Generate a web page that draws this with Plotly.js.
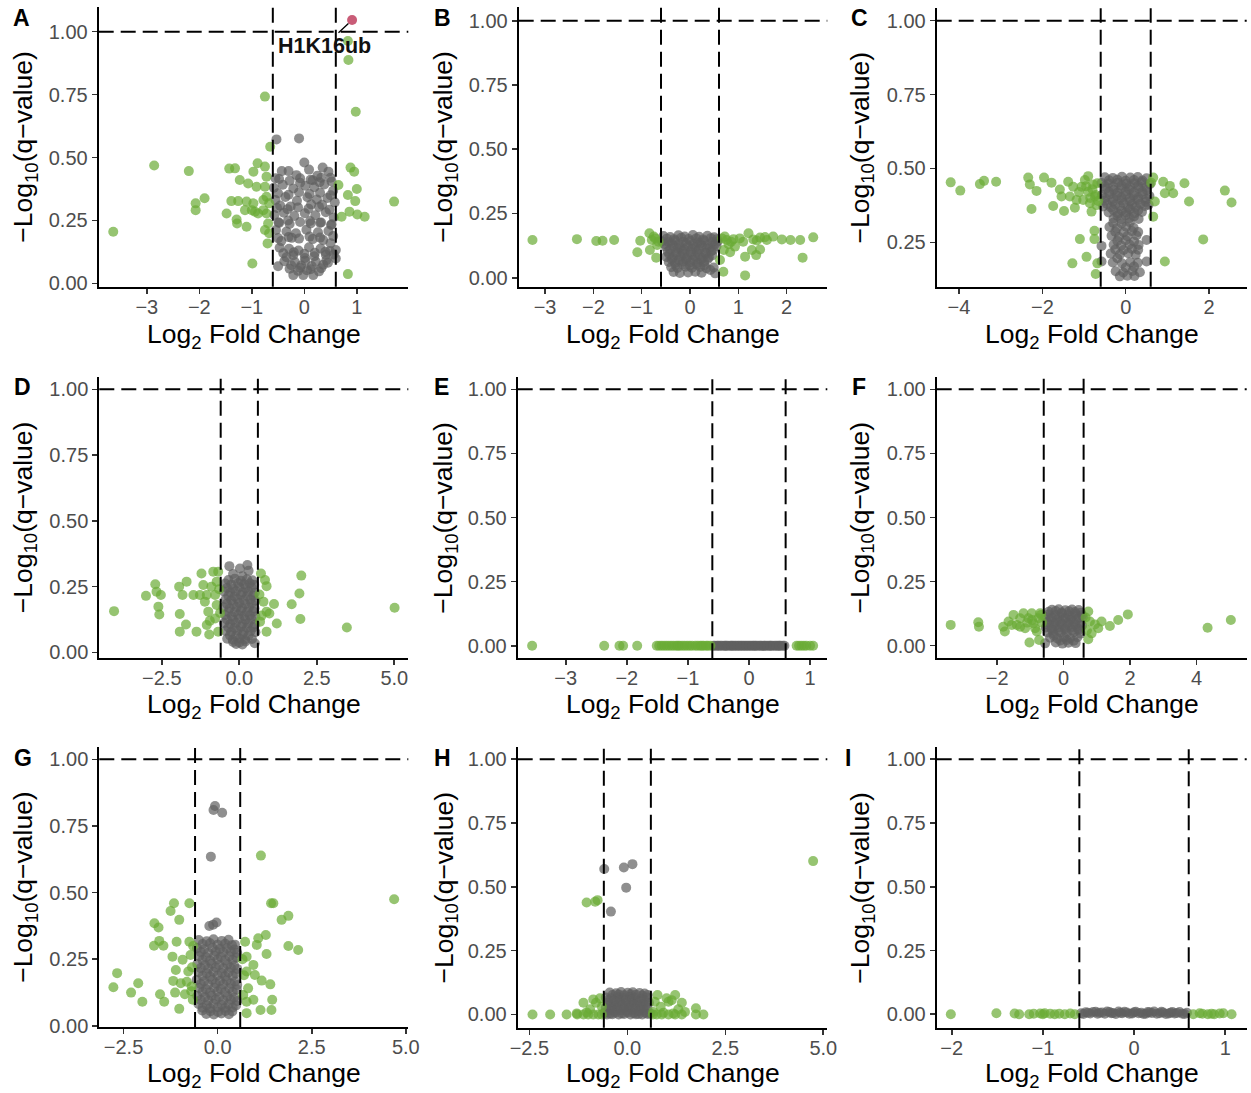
<!DOCTYPE html>
<html>
<head>
<meta charset="utf-8">
<script src="https://cdn.plot.ly/plotly-3.0.1.min.js"></script>
<style>html,body{margin:0;padding:0;background:#fff;}#chart{width:1251px;height:1093px;}</style>
</head>
<body>
<div id="chart"></div>
<script>
// ---------------- DATA ----------------
const panelLabels = ['A','B','C','D','E','F','G','H','I'];
const fcCut = [-0.6, 0.6];
const qCut = 1.0;

// Panel A
const aGrayX = [-0.53,-0.10,0.00,-0.30,-0.43,0.35,0.46,0.50,0.16,-0.15,0.09,-0.55,0.25,
 -0.58,-0.41,-0.21,0.02,0.19,0.38,0.55,-0.08,0.29,
 -0.55,-0.36,-0.14,0.06,0.24,0.44,0.58,-0.46,0.34,-0.26,0.13,
 -0.57,-0.39,-0.19,0.01,0.21,0.41,0.56,-0.31,0.11,0.30,-0.49,0.51,
 -0.54,-0.34,-0.16,0.04,0.26,0.46,-0.24,0.16,0.36,-0.44,0.55,
 -0.47,-0.29,-0.11,0.09,0.31,0.49,0.60,-0.21,0.01,0.19,0.41,
 -0.50,-0.34,-0.25,-0.06,0.14,0.36,0.60,0.45,
 -0.21,-0.02,0.17,0.05,-0.12,0.28,
 -0.48,-0.28,-0.08,0.12,0.32,0.52,
 -0.50,-0.30,-0.10,0.10,0.30,0.50,
 -0.52,-0.32,-0.12,0.08,0.28,0.48,
 -0.48,-0.28,-0.08,0.12,0.32,0.52,
 -0.50,-0.30,-0.10,0.10,0.30,0.50,
 -0.40,-0.20,0.00,0.20,0.40,0.56,
 -0.38,-0.18,0.02,0.22,0.42,
 -0.28,-0.08,0.12,0.32];
const aGrayY = [0.572,0.576,0.480,0.446,0.446,0.460,0.444,0.420,0.410,0.430,0.452,0.418,0.428,
 0.380,0.392,0.377,0.388,0.382,0.393,0.368,0.400,0.402,
 0.331,0.343,0.328,0.342,0.333,0.339,0.322,0.309,0.312,0.306,0.314,
 0.272,0.281,0.268,0.279,0.271,0.283,0.262,0.250,0.248,0.241,0.243,0.232,
 0.212,0.206,0.199,0.213,0.203,0.208,0.181,0.176,0.172,0.168,0.188,
 0.142,0.138,0.131,0.144,0.139,0.129,0.133,0.112,0.101,0.108,0.114,
 0.068,0.104,0.072,0.071,0.069,0.074,0.099,0.082,
 0.033,0.033,0.033,0.052,0.050,0.048,
 0.415,0.408,0.418,0.412,0.420,0.405,
 0.358,0.352,0.362,0.355,0.360,0.350,
 0.300,0.295,0.302,0.297,0.304,0.293,
 0.240,0.236,0.244,0.238,0.242,0.235,
 0.180,0.184,0.178,0.186,0.182,0.160,
 0.120,0.124,0.118,0.122,0.126,0.115,
 0.088,0.085,0.090,0.086,0.092,
 0.058,0.062,0.056,0.060];
const aGreenX = [-3.64,-2.86,-2.20,-2.07,-2.07,-1.90,-1.48,-1.43,-1.32,-1.39,
 -1.26,-1.23,-1.29,-1.28,-1.10,-1.07,-1.10,-0.97,-0.89,-0.99,
 -0.94,-0.91,-0.75,-0.75,-0.72,-0.75,-0.78,-0.72,-0.69,-0.75,
 -0.70,-0.65,-0.72,-0.78,-1.00,-1.13,-0.88,-0.67,-0.67,-0.97,
 0.83,0.84,0.98,0.88,0.95,0.65,1.00,0.83,0.97,1.71,0.71,0.86,1.01,1.15,0.83];
const aGreenY = [0.205,0.468,0.446,0.318,0.291,0.338,0.278,0.456,0.457,0.327,
 0.327,0.411,0.254,0.238,0.225,0.397,0.325,0.444,0.477,0.079,
 0.285,0.384,0.742,0.464,0.424,0.384,0.331,0.278,0.238,0.212,
 0.159,0.543,0.344,0.291,0.291,0.291,0.278,0.199,0.318,0.318,
 0.963,0.887,0.682,0.460,0.444,0.391,0.375,0.351,0.327,0.325,0.265,0.285,0.274,0.265,0.037];
const aHitX = [0.91];
const aHitY = [1.046];
const aHitLabel = ['H1K16ub'];

// Panel B
const bGrayX = [-0.55,-0.41,-0.24,-0.11,0.06,0.19,0.36,0.50,
 -0.58,-0.44,-0.31,-0.14,0.01,0.16,0.29,0.46,0.57,
 -0.50,-0.34,-0.21,-0.04,0.11,0.24,0.41,0.55,
 -0.46,-0.29,-0.16,0.01,0.14,0.31,0.44,
 -0.49,-0.36,-0.19,-0.06,0.11,0.26,0.39,
 -0.44,-0.31,-0.14,0.01,0.16,0.29,
 -0.39,-0.26,-0.09,0.04,0.21,0.34,0.49,
 -0.34,-0.21,-0.04,0.11,0.24,0.52,
 -0.48,-0.33,-0.18,-0.03,0.13,0.27,0.43,0.56,
 -0.53,-0.38,-0.23,-0.08,0.07,0.22,0.37,0.52,
 -0.41,-0.26,-0.11,0.04,0.19,0.34,0.48,
 -0.43,-0.28,-0.13,0.03,0.18,0.33,0.46,
 -0.38,-0.23,-0.08,0.07,0.22,0.37,
 -0.30,-0.15,0.00,0.15,0.30,0.42];
const bGrayY = [0.162,0.158,0.165,0.160,0.166,0.159,0.163,0.157,
 0.142,0.138,0.145,0.140,0.143,0.137,0.144,0.139,0.141,
 0.121,0.124,0.118,0.122,0.119,0.125,0.117,0.123,
 0.101,0.098,0.104,0.099,0.102,0.097,0.103,
 0.081,0.078,0.083,0.079,0.082,0.077,0.080,
 0.061,0.058,0.063,0.060,0.057,0.062,
 0.041,0.038,0.043,0.039,0.042,0.037,0.040,
 0.022,0.018,0.020,0.023,0.019,0.017,
 0.152,0.150,0.155,0.151,0.153,0.149,0.154,0.150,
 0.131,0.133,0.129,0.132,0.130,0.134,0.128,0.131,
 0.111,0.113,0.109,0.112,0.110,0.114,0.108,
 0.091,0.089,0.092,0.088,0.090,0.093,0.087,
 0.071,0.068,0.072,0.069,0.070,0.073,
 0.050,0.052,0.048,0.051,0.049,0.030];
const bGreenX = [-3.26,-2.34,-1.94,-1.81,-1.57,-1.03,-1.09,-0.84,-0.79,-0.83,-0.70,-0.72,-0.68,-0.75,-0.65,
 0.66,0.76,0.90,1.03,1.21,1.31,1.45,1.59,1.72,1.90,
 2.08,2.28,2.55,2.33,1.14,1.37,1.28,1.45,0.83,0.70,
 0.69,1.14,0.93,0.62,0.72,0.85,1.10,1.38,1.55,0.80];
const bGreenY = [0.147,0.150,0.143,0.144,0.147,0.144,0.099,0.173,0.147,0.108,0.078,0.153,0.127,0.160,0.140,
 0.153,0.147,0.150,0.153,0.173,0.149,0.156,0.147,0.160,0.149,
 0.147,0.147,0.157,0.078,0.082,0.088,0.108,0.110,0.099,0.108,
 0.023,0.009,0.121,0.069,0.160,0.140,0.140,0.145,0.158,0.130];

// Panel C
const cGrayX = [-0.50,-0.31,-0.09,0.11,0.29,0.50,
 -0.58,-0.41,-0.19,0.01,0.21,0.39,0.58,
 -0.49,-0.29,-0.11,0.09,0.31,0.51,
 -0.57,-0.39,-0.21,0.01,0.19,0.41,0.57,
 -0.51,-0.31,-0.09,0.11,0.29,0.49,
 -0.54,-0.36,-0.14,0.06,0.24,0.46,
 -0.41,-0.19,0.01,0.21,0.39,
 -0.29,-0.11,0.09,0.31,
 -0.39,-0.21,0.01,0.19,
 -0.34,-0.16,0.04,0.26,
 -0.58,-0.29,-0.11,0.09,0.31,0.50,
 -0.36,-0.14,0.06,0.24,
 -0.58,-0.31,-0.09,0.11,0.29,0.50,
 -0.24,-0.06,0.16,0.34,
 -0.14,0.04,0.21,
 -0.40,-0.20,0.00,0.20,0.40,
 -0.50,-0.30,-0.10,0.10,0.30,0.50,
 -0.40,-0.20,0.00,0.20,0.40,
 -0.50,-0.30,-0.10,0.10,0.30,0.50,
 -0.45,-0.25,-0.05,0.15,0.35,0.55,
 -0.30,-0.10,0.10,0.30,
 -0.20,0.00,0.20,
 -0.30,-0.10,0.10,
 -0.25,-0.05,0.15,0.30,
 -0.20,0.00,0.20,
 -0.25,-0.05,0.15,0.30,
 -0.20,0.00,0.20];
const cGrayY = [0.470,0.468,0.472,0.469,0.471,0.467,
 0.451,0.449,0.452,0.448,0.450,0.453,0.447,
 0.431,0.428,0.432,0.429,0.433,0.427,
 0.410,0.412,0.408,0.411,0.409,0.413,0.407,
 0.391,0.388,0.392,0.389,0.393,0.387,
 0.371,0.369,0.372,0.368,0.370,0.373,
 0.351,0.348,0.352,0.349,0.353,
 0.331,0.328,0.332,0.329,
 0.302,0.298,0.303,0.299,
 0.272,0.268,0.271,0.273,
 0.238,0.242,0.239,0.243,0.241,0.258,
 0.212,0.209,0.213,0.208,
 0.185,0.182,0.179,0.183,0.181,0.185,
 0.152,0.148,0.153,0.149,
 0.135,0.137,0.136,
 0.460,0.462,0.458,0.461,0.459,
 0.440,0.438,0.442,0.439,0.441,0.437,
 0.420,0.418,0.422,0.419,0.421,
 0.400,0.398,0.402,0.399,0.401,0.397,
 0.380,0.378,0.382,0.379,0.381,0.377,
 0.360,0.358,0.362,0.359,
 0.340,0.342,0.338,
 0.316,0.314,0.318,
 0.286,0.284,0.288,0.285,
 0.255,0.257,0.253,
 0.226,0.224,0.228,0.225,
 0.196,0.165,0.168];
const cGreenX = [-4.20,-3.97,-3.50,-3.40,-3.11,-2.34,-2.30,-2.26,-2.14,-1.96,
 -1.78,-1.74,-1.58,-1.54,-1.48,-1.38,-1.34,-1.26,-1.18,-1.22,
 -1.06,-1.02,-0.98,-0.90,-0.86,-0.82,-0.78,-0.74,-0.70,-0.90,
 -1.10,-0.75,-0.75,-0.94,-1.28,-0.68,-0.72,-0.80,-0.68,-0.72,-0.85,-0.66,-1.12,-0.95,
 0.66,0.61,0.90,1.06,0.94,1.14,0.70,1.41,1.52,2.38,2.54,1.86,0.66,0.94];
const cGreenY = [0.453,0.425,0.447,0.458,0.455,0.469,0.446,0.363,0.424,0.469,
 0.452,0.373,0.429,0.405,0.356,0.455,0.405,0.438,0.393,0.367,
 0.438,0.393,0.461,0.421,0.382,0.354,0.446,0.405,0.376,0.474,
 0.261,0.289,0.261,0.201,0.179,0.179,0.143,0.430,0.450,0.410,0.400,0.390,0.420,0.440,
 0.469,0.452,0.455,0.441,0.416,0.416,0.388,0.450,0.388,0.425,0.385,0.260,0.337,0.185];

// Panel D
const dGrayX = [-0.32,0.26,0.02,0.30,-0.20,0.10,
 -0.45,-0.26,-0.04,0.16,0.34,0.48,
 -0.50,-0.29,-0.11,0.11,0.29,0.50,
 -0.44,-0.26,-0.06,0.14,0.36,0.52,
 -0.51,-0.31,-0.09,0.09,0.31,0.49,
 -0.46,-0.24,-0.04,0.16,0.34,0.52,
 -0.49,-0.29,-0.11,0.11,0.29,0.51,
 -0.44,-0.26,-0.06,0.14,0.36,0.52,
 -0.39,-0.21,0.01,0.19,0.41,
 -0.10,0.10,0.50,
 -0.35,-0.15,0.05,0.25,0.42,
 -0.40,-0.20,0.00,0.20,0.40,
 -0.35,-0.15,0.05,0.25,0.45,
 -0.40,-0.20,0.00,0.20,0.40,
 -0.35,-0.15,0.05,0.25,0.45,
 -0.40,-0.20,0.00,0.20,0.40,
 -0.35,-0.15,0.05,0.25,0.45,
 -0.30,-0.10,0.10,0.30,
 -0.20,0.00,0.20];
const dGrayY = [0.328,0.332,0.319,0.310,0.298,0.290,
 0.262,0.258,0.264,0.259,0.263,0.257,
 0.232,0.228,0.233,0.229,0.231,0.227,
 0.202,0.198,0.203,0.199,0.201,0.197,
 0.172,0.168,0.173,0.169,0.171,0.167,
 0.142,0.138,0.143,0.139,0.141,0.137,
 0.112,0.108,0.113,0.109,0.111,0.107,
 0.082,0.078,0.083,0.079,0.081,0.077,
 0.052,0.048,0.053,0.049,0.051,
 0.032,0.030,0.035,
 0.275,0.280,0.272,0.278,0.274,
 0.245,0.243,0.248,0.244,0.246,
 0.215,0.213,0.218,0.214,0.216,
 0.185,0.183,0.188,0.184,0.186,
 0.155,0.153,0.158,0.154,0.156,
 0.125,0.123,0.128,0.124,0.126,
 0.095,0.093,0.098,0.094,0.096,
 0.065,0.063,0.068,0.064,
 0.040,0.038,0.042];
const dGreenX = [-4.04,-3.01,-2.71,-2.67,-2.53,-2.61,-2.58,-1.94,-1.92,-1.92,
 -1.70,-1.72,-1.83,-1.38,-1.22,-1.16,-1.05,-1.11,-1.00,-1.05,
 -0.97,-0.84,-0.73,-0.78,-0.73,-0.78,-0.68,-0.68,-1.48,-1.27,
 -0.65,-0.90,-0.62,-0.95,
 0.70,0.83,0.88,0.78,1.12,0.97,0.88,1.21,0.88,0.67,1.69,1.94,2.00,1.97,3.47,5.01,0.65,0.72];
const dGreenY = [0.157,0.215,0.259,0.231,0.218,0.174,0.144,0.250,0.146,0.079,
 0.269,0.106,0.218,0.079,0.300,0.256,0.218,0.193,0.155,0.104,
 0.068,0.307,0.269,0.218,0.180,0.129,0.079,0.307,0.218,0.218,
 0.240,0.250,0.150,0.120,
 0.300,0.275,0.252,0.193,0.184,0.148,0.155,0.110,0.079,0.117,0.183,0.224,0.292,0.127,0.095,0.170,0.220,0.140];

// Panel E
const eGrayX = [-0.58,-0.52,-0.47,-0.41,-0.37,-0.31,-0.27,-0.22,-0.17,-0.12,-0.07,-0.02,
 0.03,0.08,0.12,0.18,0.23,0.27,0.33,0.37,0.43,0.48,0.52,0.58,
 -0.555,-0.50,-0.445,-0.39,-0.345,-0.29,-0.245,-0.195,-0.145,-0.095,-0.045,0.005,
 0.055,0.10,0.15,0.20,0.25,0.30,0.35,0.40,0.455,0.50,0.555];
const eGrayY = [0,0,0,0,0,0,0,0,0,0,0,0,0,0,0,0,0,0,0,0,0,0,0,0,
 0,0,0,0,0,0,0,0,0,0,0,0,0,0,0,0,0,0,0,0,0,0,0];
const eGreenX = [-3.55,-2.37,-2.12,-2.06,-1.83,-1.51,-1.43,-1.35,-1.27,-1.19,-1.13,-1.05,
 -0.97,-0.88,-0.80,-0.74,-0.67,0.78,0.86,0.94,1.05,
 -1.47,-1.39,-1.31,-1.23,-1.16,-1.09,-1.01,-0.93,-0.84,-0.77,-0.70,-0.63,0.82,0.90,1.00];
const eGreenY = [0,0,0,0,0,0,0,0,0,0,0,0,0,0,0,0,0,0,0,0,0,
 0,0,0,0,0,0,0,0,0,0,0,0,0,0,0];

// Panel F
const fGrayX = [-0.45,-0.24,-0.06,0.16,0.34,0.52,
 -0.55,-0.36,-0.14,0.06,0.24,0.46,0.58,
 -0.50,-0.29,-0.11,0.11,0.29,0.50,
 -0.54,-0.36,-0.14,0.04,0.26,0.44,
 -0.49,-0.31,-0.09,0.09,0.31,0.51,
 -0.41,-0.19,0.01,0.19,0.41,
 -0.56,-0.24,-0.04,0.14,0.36,
 -0.35,-0.15,0.05,0.25,0.45,
 -0.45,-0.25,-0.05,0.15,0.35,0.55,
 -0.40,-0.20,0.00,0.20,0.40,
 -0.45,-0.25,-0.05,0.15,0.35,0.55,
 -0.35,-0.15,0.05,0.25,0.45,
 -0.30,-0.10,0.10,0.30];
const fGrayY = [0.132,0.135,0.129,0.134,0.131,0.128,
 0.112,0.109,0.113,0.108,0.111,0.110,0.113,
 0.091,0.088,0.092,0.089,0.093,0.087,
 0.071,0.068,0.072,0.069,0.073,0.067,
 0.051,0.048,0.052,0.049,0.053,0.047,
 0.031,0.028,0.032,0.029,0.033,
 0.009,0.012,0.008,0.011,0.010,
 0.140,0.142,0.138,0.141,0.139,
 0.122,0.120,0.124,0.121,0.123,0.119,
 0.101,0.099,0.103,0.100,0.102,
 0.081,0.079,0.083,0.080,0.082,0.078,
 0.061,0.059,0.063,0.060,0.062,
 0.040,0.020,0.022,0.019];
const fGreenX = [-3.40,-2.57,-2.55,-1.82,-1.77,-1.66,-1.51,-1.41,-1.31,-1.21,
 -1.16,-1.06,-1.03,-0.96,-0.91,-0.81,-0.76,-0.71,-0.74,-0.86,
 -1.31,-1.56,-0.65,-0.68,-1.10,-0.95,
 0.74,0.79,0.94,1.04,0.84,1.14,1.39,1.64,1.93,0.74,4.33,5.03,0.66,0.70];
const fGreenY = [0.081,0.091,0.074,0.074,0.055,0.094,0.120,0.081,0.107,0.126,
 0.068,0.107,0.012,0.126,0.087,0.055,0.107,0.126,0.022,0.068,
 0.074,0.081,0.090,0.120,0.090,0.100,
 0.133,0.094,0.083,0.068,0.048,0.094,0.077,0.100,0.122,0.025,0.070,0.100,0.110,0.060];

// Panel G
const gGrayX = [-0.07,-0.11,0.12,-0.18,-0.22,-0.03,-0.12,
 -0.50,-0.29,-0.11,0.11,0.29,0.46,
 -0.55,-0.36,-0.14,0.06,0.24,0.45,
 -0.49,-0.31,-0.09,0.09,0.31,0.50,
 -0.54,-0.34,-0.16,0.04,0.26,0.44,
 -0.51,-0.29,-0.11,0.11,0.29,0.49,
 -0.56,-0.36,-0.14,0.06,0.24,0.46,
 -0.49,-0.31,-0.09,0.09,0.31,0.51,
 -0.54,-0.34,-0.16,0.04,0.26,0.44,
 -0.51,-0.29,-0.11,0.11,0.29,0.49,
 -0.41,-0.19,0.01,0.21,0.39,
 -0.40,-0.20,0.00,0.20,0.38,
 -0.45,-0.25,-0.05,0.15,0.35,0.52,
 -0.40,-0.20,0.00,0.20,0.40,
 -0.45,-0.25,-0.05,0.15,0.35,0.52,
 -0.40,-0.20,0.00,0.20,0.40,
 -0.45,-0.25,-0.05,0.15,0.35,0.52,
 -0.40,-0.20,0.00,0.20,0.40,
 -0.45,-0.25,-0.05,0.15,0.35,0.52,
 -0.40,-0.20,0.00,0.20,0.40,
 -0.30,-0.10,0.10,0.30];
const gGrayY = [0.825,0.810,0.800,0.635,0.375,0.388,0.380,
 0.322,0.318,0.325,0.319,0.323,0.305,
 0.292,0.288,0.293,0.289,0.291,0.287,
 0.262,0.258,0.263,0.259,0.261,0.257,
 0.232,0.228,0.233,0.229,0.231,0.227,
 0.202,0.198,0.203,0.199,0.201,0.197,
 0.172,0.168,0.173,0.169,0.171,0.167,
 0.142,0.138,0.143,0.139,0.141,0.137,
 0.112,0.108,0.113,0.109,0.111,0.107,
 0.082,0.078,0.083,0.079,0.081,0.077,
 0.058,0.055,0.052,0.056,0.054,
 0.307,0.310,0.305,0.308,0.303,
 0.277,0.275,0.279,0.276,0.278,0.274,
 0.247,0.245,0.249,0.246,0.248,
 0.217,0.215,0.219,0.216,0.218,0.214,
 0.187,0.185,0.189,0.186,0.188,
 0.157,0.155,0.159,0.156,0.158,0.154,
 0.127,0.125,0.129,0.126,0.128,
 0.097,0.095,0.099,0.096,0.098,0.094,
 0.068,0.066,0.070,0.067,0.069,
 0.045,0.043,0.047,0.044];
const gGreenX = [-2.77,-2.67,-2.30,-2.11,-2.00,-1.68,-1.57,-1.69,-1.55,-1.44,
 -1.53,-1.42,-1.25,-1.16,-1.02,-1.09,-1.20,-1.11,-1.18,-1.13,
 -1.02,-0.98,-0.93,-0.87,-0.78,-0.75,-0.75,-0.72,-0.66,-0.82,
 -0.69,-0.68,-0.65,-0.70,
 1.15,1.42,1.48,1.70,1.88,1.88,2.14,1.28,1.08,1.04,
 0.73,1.30,0.77,0.95,0.99,0.77,1.17,1.40,0.81,0.95,
 0.77,1.14,1.43,1.45,0.77,4.69,0.68,0.66,0.70];
const gGreenY = [0.145,0.198,0.125,0.160,0.091,0.385,0.369,0.301,0.319,0.301,
 0.119,0.091,0.431,0.460,0.398,0.316,0.260,0.210,0.169,0.125,
 0.064,0.160,0.248,0.119,0.204,0.460,0.316,0.266,0.098,0.166,
 0.148,0.220,0.300,0.130,
 0.639,0.460,0.460,0.398,0.413,0.300,0.285,0.341,0.329,0.304,
 0.316,0.270,0.260,0.229,0.191,0.204,0.170,0.156,0.141,0.098,
 0.091,0.060,0.060,0.098,0.048,0.475,0.116,0.250,0.190];

// Panel H
const hGrayX = [-0.59,-0.09,0.13,-0.03,-0.42,
 -0.45,-0.29,-0.16,0.01,0.14,0.31,0.44,
 -0.55,-0.41,-0.24,-0.11,0.06,0.19,0.36,0.50,
 -0.50,-0.34,-0.21,-0.04,0.11,0.24,0.41,0.55,
 -0.55,-0.39,-0.26,-0.09,0.04,0.21,0.34,0.51,
 -0.58,-0.44,-0.31,-0.14,0.01,0.16,0.29,0.46,0.58,
 -0.38,-0.22,-0.08,0.08,0.22,0.38,0.52,
 -0.48,-0.33,-0.18,-0.03,0.13,0.28,0.43,
 -0.43,-0.28,-0.13,0.03,0.18,0.33,0.48,
 -0.48,-0.33,-0.18,-0.03,0.13,0.28,0.43,
 -0.52,-0.38,-0.22,-0.08,0.08,0.22,0.38,0.52];
const hGrayY = [0.570,0.576,0.589,0.497,0.403,
 0.086,0.083,0.088,0.085,0.087,0.084,0.082,
 0.066,0.063,0.067,0.064,0.068,0.065,0.062,0.066,
 0.046,0.043,0.047,0.044,0.048,0.045,0.042,0.046,
 0.026,0.023,0.027,0.024,0.028,0.025,0.022,0.026,
 0.006,0.003,0.007,0.004,0.008,0.005,0.002,0.006,0.004,
 0.076,0.078,0.075,0.079,0.077,0.074,0.076,
 0.056,0.054,0.057,0.055,0.058,0.053,0.056,
 0.036,0.034,0.037,0.035,0.038,0.033,0.036,
 0.016,0.014,0.017,0.015,0.018,0.013,0.016,
 0.000,0.001,0.000,0.002,0.000,0.001,0.000,0.002];
const hGreenX = [4.74,-1.04,-0.82,-0.76,
 -2.42,-1.97,-1.55,-1.28,-1.12,-1.00,-0.87,-0.74,
 0.75,0.88,1.05,1.22,1.39,1.75,1.94,
 -1.12,-0.80,1.39,-0.87,-0.70,
 0.77,1.00,1.22,1.13,
 1.75,1.47,1.17,0.92,0.66,-1.29,-1.04,
 -0.65,-0.95,0.70,0.85,1.05,1.30,-0.65,0.65];
const hGreenY = [0.601,0.439,0.442,0.448,
 0,0,0,0,0,0,0,0,
 0,0,0,0,0,0,0,
 0.046,0.046,0.046,0.059,0.063,
 0.076,0.063,0.076,0.056,
 0.024,0.010,0.004,0.007,0.010,0.004,0.008,
 0.030,0.020,0.050,0.030,0.050,0.020,0,0];

// Panel I
const iGrayX = [-0.58,-0.53,-0.48,-0.42,-0.38,-0.32,-0.27,-0.23,-0.17,-0.13,-0.08,-0.02,
 0.02,0.08,0.13,0.17,0.22,0.28,0.32,0.38,0.42,0.47,0.53,0.58,
 -0.555,-0.505,-0.45,-0.40,-0.35,-0.295,-0.25,-0.20,-0.15,-0.105,-0.05,0.00,
 0.05,0.105,0.15,0.195,0.25,0.30,0.35,0.40,0.445,0.50,0.555];
const iGrayY = [0.004,0.008,0.003,0.010,0.006,0.002,0.009,0.005,0.011,0.004,0.007,0.003,
 0.010,0.006,0.002,0.008,0.011,0.004,0.007,0.003,0.009,0.005,0.002,0.006,
 0.001,0.006,0.009,0.002,0.007,0.011,0.004,0.001,0.006,0.010,0.002,0.008,
 0.004,0.001,0.009,0.005,0.002,0.010,0.001,0.006,0.003,0.009,0.001];
const iGreenX = [-2.01,-1.51,-1.31,-1.26,-1.15,-1.03,-0.98,-0.92,-0.87,-0.76,-0.65,-0.82,-1.00,-1.10,-0.70,
 0.65,0.72,0.75,0.81,0.88,0.94,0.98,1.07,0.85];
const iGreenY = [0,0.004,0.003,0,0,0.003,0.004,0.002,0,0,0,0.002,0,0.002,0.003,
 0,0.004,0.002,0,0,0.003,0.004,0,0.002];

// Tick values
const xTicksA = [-3,-2,-1,0,1];
const xTicksB = [-3,-2,-1,0,1,2];
const xTicksC = [-4,-2,0,2];
const xTicksD = [-2.5,0,2.5,5];
const xTicksE = [-3,-2,-1,0,1];
const xTicksF = [-2,0,2,4];
const xTicksG = [-2.5,0,2.5,5];
const xTicksH = [-2.5,0,2.5,5];
const xTicksI = [-2,-1,0,1];
const yTicksFull = [0,0.25,0.5,0.75,1];
const yTicksC = [0.25,0.5,0.75,1];

const xTitle = 'Log<sub>2</sub> Fold Change';
const yTitle = '\u2212Log<sub>10</sub>(q\u2212value)';

// ---------------- LAYOUT ----------------
const W = 1251, H = 1093;
const FONT = 'Liberation Sans, Arial, Helvetica, sans-serif';
const GREEN = '#6aab34', GRAY = '#606060', RED = '#c0405f';

const panels = [
  {gx:aGrayX,gy:aGrayY,sx:aGreenX,sy:aGreenY,xr:[-3.917,1.981],yr:[-0.013,1.099],px:[98.7,408.3],py:[6.7,286.7],xt:xTicksA,yt:yTicksFull,xf:'d'},
  {gx:bGrayX,gy:bGrayY,sx:bGreenX,sy:bGreenY,xr:[-3.545,2.841],yr:[-0.035,1.0545],px:[518.7,827.3],py:[6.7,286.7],xt:xTicksB,yt:yTicksFull,xf:'d'},
  {gx:cGrayX,gy:cGrayY,sx:cGreenX,sy:cGreenY,xr:[-4.536,2.904],yr:[0.1,1.0417],px:[936.7,1246.7],py:[8.3,286.7],xt:xTicksC,yt:yTicksC,xf:'d'},
  {gx:dGrayX,gy:dGrayY,sx:dGreenX,sy:dGreenY,xr:[-4.516,5.452],yr:[-0.020,1.048],px:[99.3,408.3],py:[376.7,657.7],xt:xTicksD,yt:yTicksFull,xf:'.1f'},
  {gx:eGrayX,gy:eGrayY,sx:eGreenX,sy:eGreenY,xr:[-3.786,1.282],yr:[-0.049,1.047],px:[517.7,827.3],py:[377.3,658.3],xt:xTicksE,yt:yTicksFull,xf:'d'},
  {gx:fGrayX,gy:fGrayY,sx:fGreenX,sy:fGreenY,xr:[-3.821,5.507],yr:[-0.047,1.047],px:[936.7,1246.7],py:[377.3,657.7],xt:xTicksF,yt:yTicksFull,xf:'d'},
  {gx:gGrayX,gy:gGrayY,sx:gGreenX,sy:gGreenY,xr:[-3.144,5.066],yr:[-0.004,1.0475],px:[99.3,408.3],py:[746.7,1027],xt:xTicksG,yt:yTicksFull,xf:'.1f'},
  {gx:hGrayX,gy:hGrayY,sx:hGreenX,sy:hGreenY,xr:[-2.798,5.102],yr:[-0.052,1.047],px:[517.7,827.3],py:[747.3,1027.7],xt:xTicksH,yt:yTicksFull,xf:'.1f'},
  {gx:iGrayX,gy:iGrayY,sx:iGreenX,sy:iGreenY,xr:[-2.165,1.236],yr:[-0.055,1.047],px:[936.7,1246.7],py:[747.3,1028.3],xt:xTicksI,yt:yTicksFull,xf:'d'}
];
const letterPos = [[11,18],[432,18],[849,18],[12,387],[432,387],[850,387],[12,758],[432,758],[843,758]];
const xTitleY = [336,336,336,706,706,706,1075,1075,1075];
const yTitleX = [25,445,862,25,445,862,25,445,862];

const traces = [];
const layout = {
  width: W, height: H,
  margin: {l:0,r:0,t:0,b:0},
  paper_bgcolor:'#fff', plot_bgcolor:'#fff',
  showlegend:false,
  font:{family:FONT},
  shapes:[], annotations:[]
};

panels.forEach((p,i)=>{
  const s = i===0 ? '' : String(i+1);
  const xa = 'x'+s, ya = 'y'+s;
  traces.push({type:'scatter',mode:'markers',x:p.gx,y:p.gy,xaxis:xa,yaxis:ya,
    marker:{size:10,color:GRAY,opacity:0.7,line:{width:0}},hoverinfo:'skip'});
  traces.push({type:'scatter',mode:'markers',x:p.sx,y:p.sy,xaxis:xa,yaxis:ya,
    marker:{size:10,color:GREEN,opacity:0.7,line:{width:0}},hoverinfo:'skip'});
  const axBase = {showline:true,linecolor:'#000',linewidth:2,ticks:'outside',ticklen:5,tickwidth:1.6,
    tickcolor:'#333',showgrid:false,zeroline:false,fixedrange:true,
    tickfont:{family:FONT,size:20,color:'#4d4d4d'}};
  layout['xaxis'+s] = Object.assign({},axBase,{anchor:ya,domain:[p.px[0]/W,p.px[1]/W],range:p.xr,
    tickmode:'array',tickvals:p.xt,tickformat:p.xf,ticklabelstandoff:-4});
  layout['yaxis'+s] = Object.assign({},axBase,{anchor:xa,domain:[1-p.py[1]/H,1-p.py[0]/H],range:p.yr,
    tickmode:'array',tickvals:p.yt,tickformat:'.2f'});
  const dash = {color:'#000',width:2,dash:'15px,7px'};
  layout.shapes.push({type:'line',xref:xa+' domain',yref:ya,x0:0,x1:1,y0:qCut,y1:qCut,line:dash,layer:'above'});
  fcCut.forEach(v=>layout.shapes.push({type:'line',xref:xa,yref:ya+' domain',x0:v,x1:v,y0:0,y1:1,line:dash,layer:'above'}));
  layout.annotations.push({xref:'paper',yref:'paper',x:letterPos[i][0]/W,y:1-letterPos[i][1]/H,
    xanchor:'left',yanchor:'middle',text:'<b>'+panelLabels[i]+'</b>',showarrow:false,
    font:{family:FONT,size:23,color:'#000'}});
  layout.annotations.push({xref:'paper',yref:'paper',x:((p.px[0]+p.px[1])/2)/W,y:1-xTitleY[i]/H,
    xanchor:'center',yanchor:'middle',text:xTitle,showarrow:false,font:{family:FONT,size:26.5,color:'#000'}});
  layout.annotations.push({xref:'paper',yref:'paper',x:yTitleX[i]/W,y:1-((p.py[0]+p.py[1])/2)/H,
    xanchor:'center',yanchor:'middle',textangle:-90,text:yTitle,showarrow:false,font:{family:FONT,size:26.5,color:'#000'}});
});

traces.push({type:'scatter',mode:'markers',x:aHitX,y:aHitY,xaxis:'x',yaxis:'y',
  marker:{size:10,color:RED,opacity:0.85,line:{width:0}},hoverinfo:'skip'});
layout.annotations.push({xref:'x',yref:'y',x:aHitX[0],y:aHitY[0],axref:'x',ayref:'y',ax:0.375,ay:0.942,
  text:'<b>'+aHitLabel[0]+'</b>',showarrow:true,arrowhead:0,arrowwidth:1.3,arrowcolor:'#000',standoff:5,
  font:{family:FONT,size:21.5,color:'#111'}});

Plotly.newPlot('chart',traces,layout,{staticPlot:true,displayModeBar:false});
</script>
</body>
</html>
